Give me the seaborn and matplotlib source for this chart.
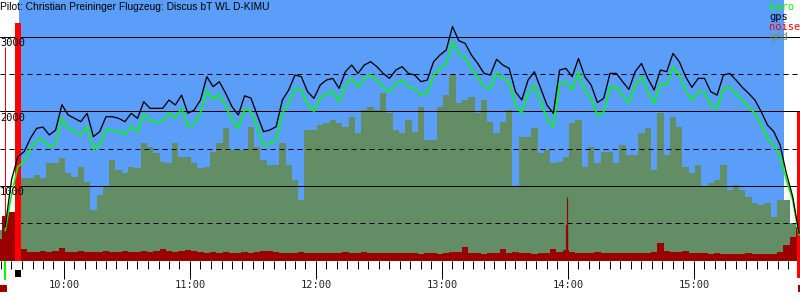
import numpy as np
import pandas as pd
import matplotlib
matplotlib.use("Agg")
import matplotlib.pyplot as plt
import matplotlib.transforms as mtransforms
from matplotlib.patches import Rectangle
import seaborn as sns

nan = np.nan

title = "Pilot: Christian Preininger Flugzeug: Discus bT WL D-KIMU"

# sampling grid of the logger values (hours)
start_hour = 9 + 29 / 60
step_min = 3

gps = [nan, 450, 1080, 1393, 1460, 1640, 1774, 1790, 1685, 1750, 2090, 1953, 1908, 1863, 1975, 1662,
       1729, 1930, 1930, 1908, 1863, 1975, 1908, 2131, 2042, 2042, 2042, 2154, 2087, 2220, 1975, 2020,
       2154, 2467, 2333, 2400, 2243, 2064, 1953, 2210, 2180, 1953, 1729, 1751, 1796, 2154, 2288, 2489,
       2467, 2265, 2176, 2355, 2422, 2444, 2310, 2534, 2623, 2511, 2623, 2668, 2601, 2511, 2444, 2556,
       2601, 2511, 2489, 2400, 2422, 2668, 2757, 2824, 3140, 2950, 2914, 2757, 2645, 2511, 2489, 2700,
       2623, 2578, 2265, 2154, 2422, 2534, 2310, 2086, 1975, 2556, 2578, 2467, 2712, 2467, 2355, 2120,
       2176, 2511, 2511, 2400, 2297, 2534, 2645, 2444, 2288, 2556, 2534, 2779, 2668, 2467, 2324, 2444,
       2444, 2265, 2220, 2489, 2511, 2422, 2324, 2243, 2154, 1997, 1818, 1729, 1550, 1169, 857, 365]

baro = [nan, 400, 880, 1259, 1327, 1500, 1610, 1630, 1520, 1570, 1910, 1780, 1730, 1690, 1800, 1490,
        1550, 1760, 1750, 1735, 1690, 1800, 1730, 1960, 1870, 1860, 1870, 1980, 1910, 2040, 1800, 1840,
        1980, 2290, 2160, 2225, 2070, 1890, 1775, 2030, 2000, 1780, 1550, 1570, 1620, 1980, 2110, 2310,
        2290, 2090, 2000, 2180, 2245, 2265, 2130, 2355, 2445, 2330, 2445, 2490, 2420, 2330, 2265, 2375,
        2420, 2330, 2310, 2220, 2245, 2490, 2580, 2640, 2940, 2760, 2730, 2575, 2465, 2330, 2310, 2520,
        2440, 2400, 2085, 1975, 2240, 2355, 2130, 1905, 1795, 2375, 2400, 2285, 2530, 2285, 2175, 1940,
        1995, 2330, 2330, 2220, 2115, 2355, 2465, 2265, 2110, 2375, 2355, 2600, 2490, 2285, 2145, 2265,
        2265, 2085, 2040, 2310, 2330, 2240, 2145, 2060, 1975, 1820, 1640, 1550, 1400, 1080, 812, 343]

gnd = [409, 409, 400, 420, 1103, 1103, 1150, 1103, 1304, 1304, 1371, 1170, 1125, 1259, 1058, 678,
       880, 991, 1349, 1214, 1170, 1259, 1237, 1572, 1527, 1438, 1327, 1304, 1572, 1393, 1393, 1304,
       1237, 1259, 1460, 1572, 1773, 1483, 1483, 1483, 1796, 1527, 1349, 1282, 1282, 1572, 1282, 1080,
       812, 1751, 1751, 1818, 1840, 1885, 1840, 1796, 1930, 1706, 2020, 2064, 2020, 2243, 1975, 1751,
       1706, 1885, 1729, 2064, 1617, 1617, 2064, 2220, 2489, 2109, 2154, 2198, 1975, 2154, 1863, 1706,
       1863, 2020, 991, 1661, 1661, 1773, 1438, 1483, 1304, 1327, 1393, 1840, 1885, 1259, 1527, 1304,
       1460, 1460, 1304, 1550, 1416, 1416, 1706, 1773, 1214, 1975, 1416, 1930, 1796, 1259, 1170, 1282,
       991, 1035, 1080, 1282, 946, 1013, 946, 857, 768, 745, 768, 589, 812, 812, 500, 420]

noise = [290, 600, 650, 700, 150, 120, 110, 130, 115, 125, 170, 120, 110, 125, 110, 120,
         115, 130, 120, 110, 125, 120, 110, 130, 120, 125, 160, 130, 120, 130, 140, 125,
         110, 105, 120, 100, 110, 105, 100, 110, 100, 120, 125, 130, 110, 100, 105, 100,
         110, 95, 100, 105, 100, 95, 100, 110, 105, 100, 110, 100, 95, 100, 105, 100,
         100, 95, 100, 90, 95, 100, 90, 100, 110, 120, 180, 100, 95, 90, 100, 95,
         150, 100, 110, 95, 100, 90, 100, 95, 150, 110, 140, 120, 105, 95, 100, 110,
         100, 95, 100, 95, 100, 100, 105, 100, 120, 230, 130, 120, 110, 130, 100, 95,
         100, 90, 95, 90, 90, 85, 90, 95, 90, 85, 85, 90, 120, 210, 320, 450]

# narrow noise spike
spike_t = [13 + 59.5 / 60]
spike_top = [856]
spike_mid = [476]

# events
launch_t = 9 + 32 / 60          # thin red line / green marker
takeoff_t = 9 + 38.1 / 60       # red bar
flight_start_t = 9 + 38.6 / 60  # blue band
flight_end_t = 15 + 42.9 / 60
landing_t = 15 + 49.9 / 60
takeoff_bar_top = 3187
landing_bar_top = 1993
launch_line = (410, 2866)

major_levels = [1000, 2000, 3000]
half_levels = [500, 1500, 2500]
hour_ticks = [10, 11, 12, 13, 14, 15]
hour_labels = ["10:00", "11:00", "12:00", "13:00", "14:00", "15:00"]
legend_labels = ["baro", "gps", "noise", "gnd"]

BLUE = "#5b9ef9"
GND = "#638d65"
GND_TXT = "#6f9270"
NOISE = "#9a0000"
RED = "#ff0000"
GREEN = "#00ff00"

t = start_hour + np.arange(len(gps)) * step_min / 60.0
df = pd.DataFrame({"t": t, "gps": gps, "baro": baro, "gnd": gnd, "noise": noise})

sns.set_style("white")
plt.rcParams["font.family"] = ["DejaVu Sans"]

DPI = 100
fig = plt.figure(figsize=(8, 3), dpi=DPI)
ax = fig.add_axes([0, 39.5 / 300, 1, 260.5 / 300])
ax.set_xlim(10 - 64 / 126, 10 + 736 / 126)
ax.set_ylim(0, 3496)
for s in ax.spines.values():
    s.set_visible(False)
ax.set_facecolor("white")

px = 0.72  # one pixel in points

ax.axvspan(flight_start_t, flight_end_t, color=BLUE, lw=0, zorder=0)
ax.fill_between(df["t"], 0, df["gnd"], step="mid", color=GND, lw=0, zorder=1)

for v in major_levels:
    ax.axhline(v, color="black", lw=1.0 * px, zorder=2)
for v in half_levels:
    ax.axhline(v, color="black", lw=1.0 * px, ls=(0, (5, 4)), zorder=2)

ax.fill_between(df["t"], 0, df["noise"], step="mid", color=NOISE, lw=0, zorder=3)
ax.vlines(spike_t, 0, spike_top, color=NOISE, lw=1.2 * px, zorder=3)
ax.vlines(spike_t, 0, spike_mid, color=NOISE, lw=2.2 * px, zorder=3)

# event bars (under the flight lines)
ax.vlines([launch_t], launch_line[0], launch_line[1], color=RED, lw=1.0 * px, zorder=3.5)
bar_w = 6.5 / 126
ax.add_patch(Rectangle((takeoff_t - bar_w / 2, 0), bar_w, takeoff_bar_top, color=RED, lw=0, zorder=3.5))
rw = 3.5 / 126
ax.add_patch(Rectangle((landing_t - rw / 2, 0), rw, landing_bar_top, color=RED, lw=0, zorder=3.5))

sns.lineplot(data=df, x="t", y="baro", color=GREEN, lw=1.6 * px, ax=ax, zorder=4, sort=False)
sns.lineplot(data=df, x="t", y="gps", color="black", lw=1.3 * px, ax=ax, zorder=4, sort=False)

trans = ax.get_xaxis_transform()
H = 260.5
ax.add_patch(Rectangle((landing_t - rw / 2, -17.5 / H), rw, 17.5 / H, color=RED, lw=0,
                       transform=trans, clip_on=False, zorder=5))
ax.add_patch(Rectangle((launch_t - 1 / 126, -19.5 / H), 2.2 / 126, 19.5 / H, color=GREEN, lw=0,
                       transform=trans, clip_on=False, zorder=5))
ax.add_patch(Rectangle((takeoff_t - 3.2 / 126, -16.5 / H), 6.5 / 126, 7.5 / H, color="black", lw=0,
                       transform=trans, clip_on=False, zorder=5))
ax.add_patch(Rectangle((ax.get_xlim()[0], -31.5 / H), 6.5 / 126, 7.5 / H, color=NOISE, lw=0,
                       transform=trans, clip_on=False, zorder=5))
ax.add_patch(Rectangle((ax.get_xlim()[1] - 1.5 / 126, -31.5 / H), 1.5 / 126, 7.5 / H, color=NOISE, lw=0,
                       transform=trans, clip_on=False, zorder=5))

# x ticks
ax.set_xticks(hour_ticks)
ax.set_xticklabels(hour_labels, family="DejaVu Sans Mono", fontsize=7.5)
ax.xaxis.set_minor_locator(matplotlib.ticker.MultipleLocator(1 / 12))
ax.tick_params(axis="x", which="major", direction="out", length=17.5 * px, width=1.0 * px,
               color="black", pad=1.5, bottom=True)
ax.tick_params(axis="x", which="minor", direction="out", length=7.5 * px, width=1.0 * px,
               color="black", bottom=True)
ax.set_yticks([])
ax.set_xlabel("")
ax.set_ylabel("")

# y labels inside the plot
off = mtransforms.ScaledTranslation(0, -1.5 / DPI, fig.dpi_scale_trans)
ytrans = mtransforms.blended_transform_factory(ax.transAxes, ax.transData) + off
for v in major_levels:
    ax.text(0.0, v, str(v), transform=ytrans, ha="left", va="top",
            family="DejaVu Sans Mono", fontsize=7.5, color="black", zorder=6)

# title
fig.text(0.0, 1 - 9.5 / 300, title, ha="left", va="baseline", family="Liberation Sans",
         fontsize=7.4, color="black")

# legend
leg_colors = [GREEN, "black", RED, GND_TXT]
for k, (lab, c) in enumerate(zip(legend_labels, leg_colors)):
    fig.text(769.5 / 800, 1 - (10 + 10 * k) / 300, lab, ha="left", va="baseline",
             family="DejaVu Sans Mono", fontsize=7.5, color=c)

fig.savefig("out.png", dpi=DPI)
